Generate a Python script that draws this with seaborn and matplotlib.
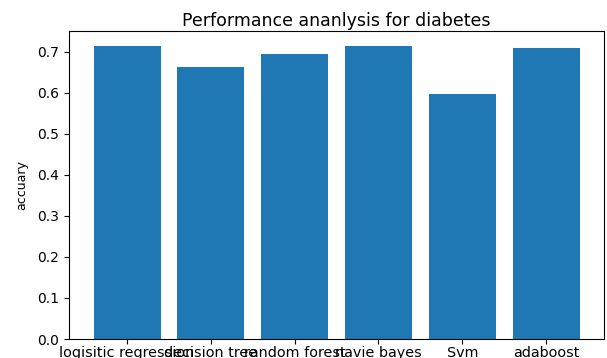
import matplotlib
matplotlib.use("Agg")
import matplotlib.pyplot as plt
import seaborn as sns

# accuracy per model
models = ["logisitic regression", "decision tree", "random forest", "navie bayes", "Svm", "adaboost"]
accuracy = [0.714, 0.662, 0.694, 0.714, 0.597, 0.708]

fig, ax = plt.subplots(figsize=(6.07, 3.58), dpi=100)
fig.subplots_adjust(left=0.114, right=0.995, top=0.913, bottom=0.053)

sns.barplot(x=models, y=accuracy, color="#1f77b4", saturation=1, width=0.8, ax=ax)

ax.set_xlim(-0.69, 5.69)
ax.set_ylim(0, max(accuracy) * 1.05)
ax.set_yticks([0.0, 0.1, 0.2, 0.3, 0.4, 0.5, 0.6, 0.7])
ax.tick_params(axis="y", labelsize=10)
ax.tick_params(axis="x", labelsize=10.4, pad=1.5)
ax.set_xlabel("")
ax.set_ylabel("accuary", fontsize=9, labelpad=7)
ax.set_title("Performance ananlysis for diabetes", fontsize=12.5, pad=4)

plt.savefig("out.png", dpi=100)
